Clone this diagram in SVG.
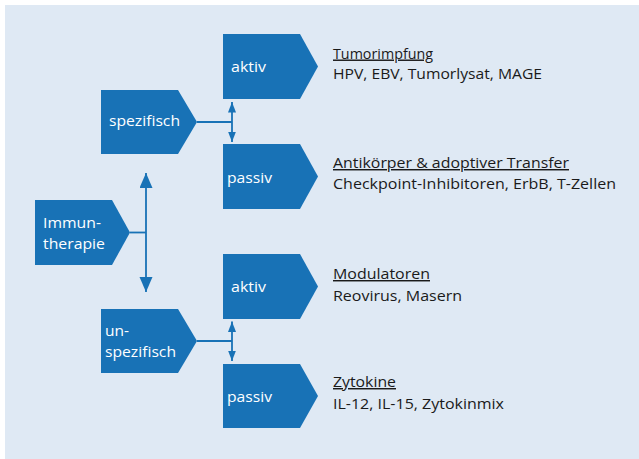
<svg xmlns="http://www.w3.org/2000/svg" width="639" height="459" viewBox="0 0 639 459">
<style>
.node{fill:#1872B6;}
.nt{fill:#ffffff;font-family:"Open Sans","Noto Sans",sans-serif;font-size:14.5px;}
.dt{fill:#1a1a1a;font-family:"Open Sans","Noto Sans",sans-serif;font-size:14.5px;}
.u{text-decoration:underline;}
.con{stroke:#1872B6;stroke-width:1.8;fill:none;}
</style>
<defs>
<marker id="big" markerUnits="userSpaceOnUse" markerWidth="16" markerHeight="14" refX="15" refY="6.5" orient="auto-start-reverse"><path d="M0,0 L15,6.5 L0,13 z" fill="#1872B6"/></marker>
<marker id="small" markerUnits="userSpaceOnUse" markerWidth="11" markerHeight="9" refX="10.5" refY="4" orient="auto-start-reverse"><path d="M0,0 L10.5,4 L0,8 z" fill="#1872B6"/></marker>
</defs>
<rect x="5" y="5" width="634" height="454" fill="#DFE9F4"/>
<g id="connectors">
<line class="con" x1="130" y1="232.5" x2="146" y2="232.5"/>
<line class="con" x1="146" y1="173" x2="146" y2="292" marker-start="url(#big)" marker-end="url(#big)"/>
<line class="con" x1="197" y1="122" x2="232" y2="122"/>
<line class="con" x1="232" y1="102" x2="232" y2="142" marker-start="url(#small)" marker-end="url(#small)"/>
<line class="con" x1="197" y1="341" x2="232" y2="341"/>
<line class="con" x1="232" y1="321.5" x2="232" y2="361" marker-start="url(#small)" marker-end="url(#small)"/>
</g>
<g id="immuntherapie">
<polygon class="node" points="35,200 112,200 130,232.5 112,265 35,265"/>
<text class="nt" x="43" y="228" textLength="58" lengthAdjust="spacingAndGlyphs">Immun-</text>
<text class="nt" x="43" y="249" textLength="62" lengthAdjust="spacingAndGlyphs">therapie</text>
</g>
<g id="spezifisch">
<polygon class="node" points="101,90 178,90 197,122 178,154 101,154"/>
<text class="nt" x="109" y="126" textLength="71" lengthAdjust="spacingAndGlyphs">spezifisch</text>
</g>
<g id="unspezifisch">
<polygon class="node" points="101,309 178,309 197,341 178,373 101,373"/>
<text class="nt" x="105" y="336" textLength="24" lengthAdjust="spacingAndGlyphs">un-</text>
<text class="nt" x="105" y="357" textLength="71" lengthAdjust="spacingAndGlyphs">spezifisch</text>
</g>
<g id="aktiv1">
<polygon class="node" points="223,34 300,34 318,66.5 300,99 223,99"/>
<text class="nt" x="231" y="72" textLength="35" lengthAdjust="spacingAndGlyphs">aktiv</text>
</g>
<g id="passiv1">
<polygon class="node" points="223,144 300,144 318,176.5 300,209 223,209"/>
<text class="nt" x="227" y="183" textLength="45" lengthAdjust="spacingAndGlyphs">passiv</text>
</g>
<g id="aktiv2">
<polygon class="node" points="223,254 300,254 318,286.5 300,319 223,319"/>
<text class="nt" x="231" y="292" textLength="35" lengthAdjust="spacingAndGlyphs">aktiv</text>
</g>
<g id="passiv2">
<polygon class="node" points="223,364 300,364 318,396 300,428 223,428"/>
<text class="nt" x="227" y="402" textLength="45" lengthAdjust="spacingAndGlyphs">passiv</text>
</g>
<g id="desc1">
<text class="dt u" x="333" y="58.5" textLength="100" lengthAdjust="spacingAndGlyphs">Tumorimpfung</text>
<text class="dt" x="333" y="79" textLength="209" lengthAdjust="spacingAndGlyphs">HPV, EBV, Tumorlysat, MAGE</text>
</g>
<g id="desc2">
<text class="dt u" x="333" y="168" textLength="236" lengthAdjust="spacingAndGlyphs">Antikörper &amp; adoptiver Transfer</text>
<text class="dt" x="333" y="189" textLength="283" lengthAdjust="spacingAndGlyphs">Checkpoint-Inhibitoren, ErbB, T-Zellen</text>
</g>
<g id="desc3">
<text class="dt u" x="333" y="279" textLength="97" lengthAdjust="spacingAndGlyphs">Modulatoren</text>
<text class="dt" x="333" y="300.5" textLength="129" lengthAdjust="spacingAndGlyphs">Reovirus, Masern</text>
</g>
<g id="desc4">
<text class="dt u" x="333" y="387" textLength="63" lengthAdjust="spacingAndGlyphs">Zytokine</text>
<text class="dt" x="333" y="409" textLength="171" lengthAdjust="spacingAndGlyphs">IL-12, IL-15, Zytokinmix</text>
</g>
</svg>
